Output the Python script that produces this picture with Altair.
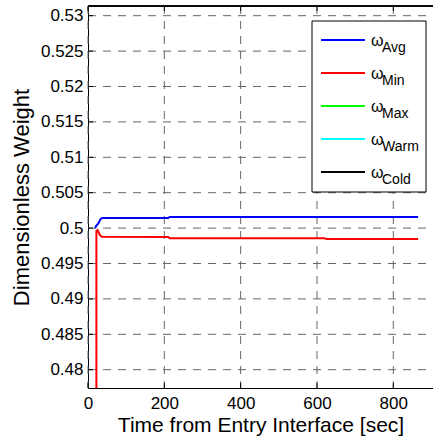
import altair as alt
import pandas as pd

# ---- data ----
avg_t = [19, 21, 27, 33, 38, 210, 214, 865]
avg_w = [0.5000, 0.5003, 0.50066, 0.50129, 0.50142, 0.50142, 0.50158, 0.50158]

min_t = [22, 22, 25, 31, 36, 210, 214, 620, 624, 865]
min_w = [0.4400, 0.4996, 0.49973, 0.49903, 0.49879, 0.49876, 0.49858, 0.49858, 0.49845, 0.49845]

series_names = ["Avg", "Min", "Max", "Warm", "Cold"]
series_colors = ["#0000ff", "#ff0000", "#00ff00", "#00ffff", "#000000"]

x_ticks = [0, 200, 400, 600, 800]
y_ticks = [0.48, 0.485, 0.49, 0.495, 0.5, 0.505, 0.51, 0.515, 0.52, 0.525, 0.53]

# ---- layout ----
W, H = 345, 382
FONT = "Liberation Sans"
X_DOM = [0, 904]
Y_DOM = [0.477415, 0.53137]
GRID = "#666666"
DASH = [8, 7]

rows = []
for t, w in zip(avg_t, avg_w):
    rows.append({"t": t, "w": w, "s": "Avg"})
for t, w in zip(min_t, min_w):
    rows.append({"t": t, "w": w, "s": "Min"})
df = pd.DataFrame(rows)

xs = alt.Scale(domain=X_DOM, nice=False, zero=False)
ys = alt.Scale(domain=Y_DOM, nice=False, zero=False)
cs = alt.Scale(domain=series_names, range=series_colors)

common = dict(format="~r", grid=False, ticks=False, labelFont=FONT, labelFontSize=17,
              labelColor="black", domainColor="black", domainWidth=1,
              labelOverlap=False, labelFlush=False, labelBound=False,
              titleFont=FONT, titleFontWeight="normal", titleColor="black")

xt = pd.DataFrame({"t": x_ticks})
yt = pd.DataFrame({"w": y_ticks})

# dashed grid drawn as rules, under the data
xgrid = alt.Chart(xt).mark_rule(color=GRID, strokeDash=DASH, strokeWidth=1).encode(
    x=alt.X("t:Q", scale=xs, axis=alt.Axis(
        values=x_ticks, labelPadding=7,
        title="Time from Entry Interface [sec]", titleFontSize=21, titlePadding=3,
        **common)),
    y=alt.value(0), y2=alt.value(H))
ygrid = alt.Chart(yt).mark_rule(color=GRID, strokeDash=DASH, strokeWidth=1).encode(
    y=alt.Y("w:Q", scale=ys, axis=alt.Axis(
        values=y_ticks, labelPadding=5, tickCount=30,
        title="Dimensionless Weight", titleFontSize=22, titlePadding=7,
        **common)),
    x=alt.value(0), x2=alt.value(W))

lines = alt.Chart(df).mark_line(strokeWidth=2, clip=True).encode(
    x=alt.X("t:Q", scale=xs),
    y=alt.Y("w:Q", scale=ys),
    color=alt.Color("s:N", scale=cs, legend=None),
    order=alt.Order("t:Q"),
    detail="s:N",
)

xtick_bot = alt.Chart(xt).mark_rule(color="black").encode(
    x=alt.X("t:Q", scale=xs), y=alt.value(H), y2=alt.value(H - 5))
xtick_top = alt.Chart(xt).mark_rule(color="black").encode(
    x=alt.X("t:Q", scale=xs), y=alt.value(0), y2=alt.value(5))
ytick_left = alt.Chart(yt).mark_rule(color="black").encode(
    y=alt.Y("w:Q", scale=ys), x=alt.value(0), x2=alt.value(5))
top_border = alt.Chart(xt).mark_rule(color="black").encode(
    x=alt.value(0), x2=alt.value(W), y=alt.value(0))

main = alt.layer(xgrid, ygrid, lines, xtick_bot, xtick_top, ytick_left, top_border)

# ---- legend (drawn in pixel space of the plot area) ----
leg = pd.DataFrame({"name": series_names, "color": series_colors,
                    "idx": list(range(len(series_names)))})
ly = alt.Scale(domain=[0, len(series_names) - 1], range=[34, 166])
box = alt.Chart(leg.head(1)).mark_rect(fill="white", stroke="black", strokeWidth=1).encode(
    x=alt.value(224), x2=alt.value(338), y=alt.value(15), y2=alt.value(186))
leg_lines = alt.Chart(leg).mark_rule(strokeWidth=2).encode(
    y=alt.Y("idx:Q", scale=ly, axis=None), x=alt.value(233), x2=alt.value(277),
    color=alt.Color("color:N", scale=None, legend=None))
omega = alt.Chart(leg).mark_text(text="ω", font=FONT, fontSize=16, align="left",
                                 baseline="alphabetic", dy=6, color="black").encode(
    y=alt.Y("idx:Q", scale=ly, axis=None), x=alt.value(283))
sub = alt.Chart(leg).mark_text(font=FONT, fontSize=14, align="left",
                               baseline="alphabetic", dy=12, color="black").encode(
    y=alt.Y("idx:Q", scale=ly, axis=None), x=alt.value(294), text="name:N")
legend = alt.layer(box, leg_lines, omega, sub)

chart = alt.layer(main, legend).resolve_scale(y="independent").properties(
    width=W, height=H,
    autosize=alt.AutoSizeParams(type="none"),
    padding={"left": 88, "top": 6, "right": 0, "bottom": 52},
    background="white",
).configure_view(strokeWidth=0)

chart.save("out.html", embed_options={"renderer": "svg", "actions": False})
